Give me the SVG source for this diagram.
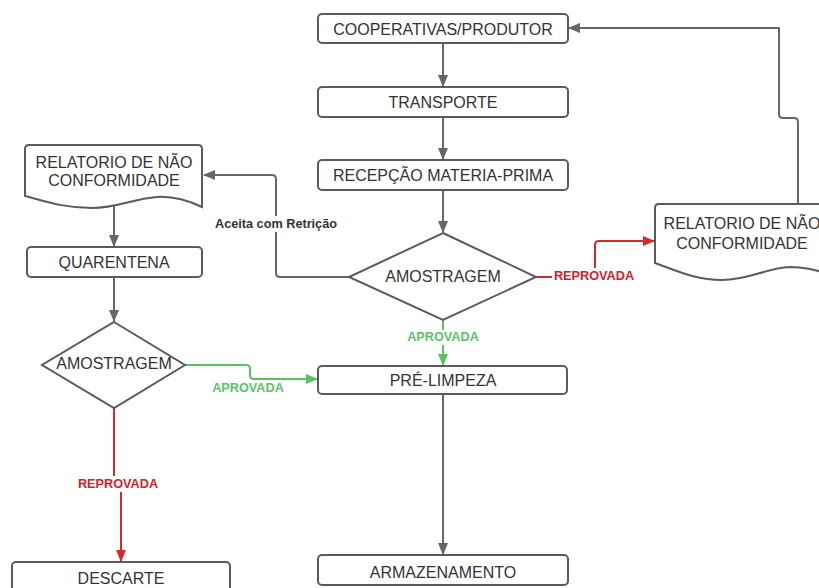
<svg xmlns="http://www.w3.org/2000/svg" width="819" height="588" viewBox="0 0 819 588">
<style>
.box{fill:#fff;stroke:#5b5b5b;stroke-width:2}
.t{font-family:"Liberation Sans",Arial,sans-serif;font-size:16px;fill:#333;text-anchor:middle;dominant-baseline:central}
.lb{font-family:"Liberation Sans",Arial,sans-serif;font-size:12.7px;font-weight:bold;text-anchor:middle;dominant-baseline:central}
.c{fill:none;stroke-width:2;stroke-linejoin:round}
.g{stroke:#666}
.r{stroke:#d42a2a}
.gr{stroke:#57c263}
.bg{fill:#fff}
</style>
<defs>
<marker id="ag" markerUnits="userSpaceOnUse" markerWidth="12" markerHeight="10" refX="11" refY="5" orient="auto"><path d="M0,0 L12,5 L0,10 Z" fill="#666"/></marker>
<marker id="ar" markerUnits="userSpaceOnUse" markerWidth="12" markerHeight="10" refX="11" refY="5" orient="auto"><path d="M0,0 L12,5 L0,10 Z" fill="#d42a2a"/></marker>
<marker id="agr" markerUnits="userSpaceOnUse" markerWidth="12" markerHeight="10" refX="11" refY="5" orient="auto"><path d="M0,0 L12,5 L0,10 Z" fill="#57c263"/></marker>
</defs>
<rect width="819" height="588" fill="#fff"/>
<g id="connectors">
<path class="c g" d="M443,43 V86" marker-end="url(#ag)"/>
<path class="c g" d="M443,117 V159" marker-end="url(#ag)"/>
<path class="c g" d="M443,190 V232" marker-end="url(#ag)"/>
<path class="c gr" d="M443,320 V365" marker-end="url(#agr)"/>
<path class="c g" d="M443,394 V554" marker-end="url(#ag)"/>
<path class="c r" d="M536,277 H595 V245 Q595,241 599,241 H654" marker-end="url(#ar)"/>
<path class="c g" d="M798,204 V122 Q798,118 794,118 H783 Q779,118 779,114 V28 H569" marker-end="url(#ag)"/>
<path class="c g" d="M349,277 H280 Q276,277 276,273 V179 Q276,175 272,175 H204" marker-end="url(#ag)"/>
<path class="c g" d="M114,206 V246" marker-end="url(#ag)"/>
<path class="c g" d="M114,277 V321" marker-end="url(#ag)"/>
<path class="c gr" d="M185,365 H246 Q250,365 250,369 V375 Q250,379 254,379 H317" marker-end="url(#agr)"/>
<path class="c r" d="M114,408 V482 H121 V561" marker-end="url(#ar)"/>
<rect class="bg" x="552" y="268" width="84" height="16"/>
<text class="lb" x="594" y="276" fill="#c8262b">REPROVADA</text>
<rect class="bg" x="405" y="330" width="76" height="15"/>
<text class="lb" x="443" y="337" fill="#5cc26a">APROVADA</text>
<rect class="bg" x="212" y="216" width="128" height="16"/>
<text class="lb" x="276" y="224" fill="#333">Aceita com Retrição</text>
<text class="lb" x="248" y="388" fill="#5cc26a">APROVADA</text>
<rect class="bg" x="76" y="476" width="84" height="16"/>
<text class="lb" x="118" y="484" fill="#c8262b">REPROVADA</text>
</g>
<g id="cooperativas"><rect class="box" x="318" y="14" width="250" height="29" rx="4"/><text class="t" x="443" y="29">COOPERATIVAS/PRODUTOR</text></g>
<g id="transporte"><rect class="box" x="318" y="87" width="250" height="30" rx="4"/><text class="t" x="443" y="102">TRANSPORTE</text></g>
<g id="recepcao"><rect class="box" x="318" y="160" width="250" height="30" rx="4"/><text class="t" x="443" y="175">RECEPÇÃO MATERIA-PRIMA</text></g>
<g id="amostragem1"><path class="box" d="M443,233 L536,277 L443,320 L349,277 Z"/><text class="t" x="443" y="276">AMOSTRAGEM</text></g>
<g id="relatorio-direita"><path class="box" d="M655,208 Q655,204 659,204 H826 Q830,204 830,208 V274 C815,270 805,267 790,267 C765,268 750,280 722,280 C695,280 675,270 655,263 Z"/><text class="t" x="742" y="223">RELATORIO DE NÃO</text><text class="t" x="742" y="243">CONFORMIDADE</text></g>
<g id="relatorio-esquerda"><path class="box" d="M25,149 Q25,145 29,145 H198 Q202,145 202,149 V207 C187,200 172,196 157,197 C132,199 117,208 92,208 C62,208 42,200 25,196 Z"/><text class="t" x="114" y="162">RELATORIO DE NÃO</text><text class="t" x="114" y="180">CONFORMIDADE</text></g>
<g id="quarentena"><rect class="box" x="27" y="247" width="175" height="30" rx="4"/><text class="t" x="114" y="262">QUARENTENA</text></g>
<g id="amostragem2"><path class="box" d="M114,322 L185,365 L114,408 L42,365 Z"/><text class="t" x="114" y="363">AMOSTRAGEM</text></g>
<g id="pre-limpeza"><rect class="box" x="318" y="366" width="249" height="28" rx="4"/><text class="t" x="443" y="380">PRÉ-LIMPEZA</text></g>
<g id="descarte"><rect class="box" x="12" y="562" width="218" height="30" rx="4"/><text class="t" x="121" y="578">DESCARTE</text></g>
<g id="armazenamento"><rect class="box" x="318" y="555" width="250" height="30" rx="4"/><text class="t" x="443" y="572">ARMAZENAMENTO</text></g>
</svg>
